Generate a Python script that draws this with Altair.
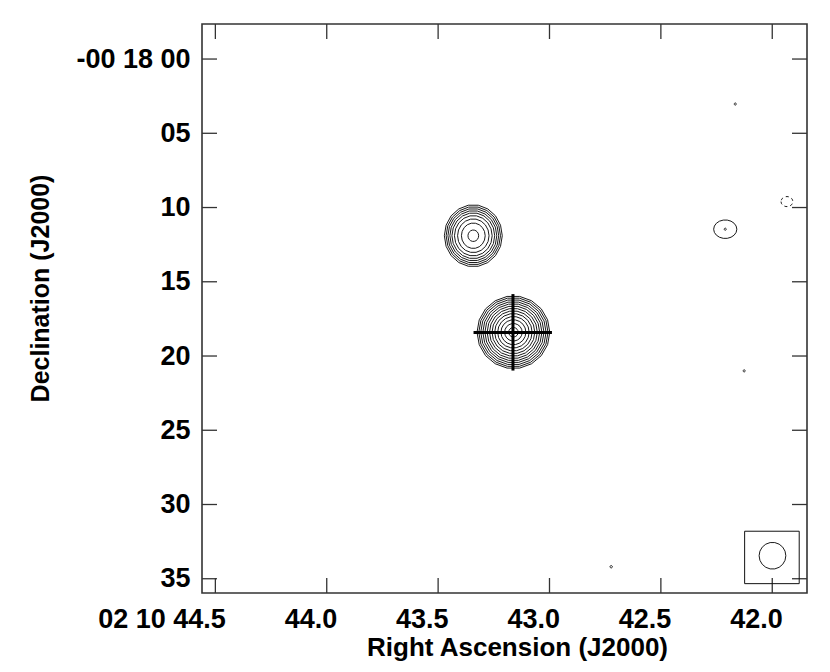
import altair as alt
import pandas as pd
import numpy as np

# Axis tick values
x_ticks = [44.5, 44.0, 43.5, 43.0, 42.5, 42.0]          # RA seconds (02 10 xx.x)
y_ticks = [0, 5, 10, 15, 20, 25, 30, 35]                 # Dec arcsec offset (-00 18 xx)

# Positive contour groups: centre RA (s), centre Dec (arcsec), ring radii (arcsec), y/x ratio
src_ra = [43.342, 43.162, 42.211, 42.211, 42.166, 42.126, 42.723, 41.999]
src_dec = [11.9, 18.4, 11.46, 11.46, 3.03, 21.0, 34.19, 33.45]
src_radii = [
    [1.95, 1.83, 1.71, 1.58, 1.44, 1.27, 1.06, 0.80, 0.36],
    [2.45, 2.33, 2.20, 2.06, 1.92, 1.77, 1.61, 1.44, 1.26, 1.06, 0.84, 0.59, 0.32],
    [0.78],
    [0.07],
    [0.07],
    [0.07],
    [0.08],
    [0.90],
]
src_ratio = [1.07, 1.0, 0.8, 1.0, 1.0, 1.0, 1.0, 1.0]

# Negative (dashed) contour
neg_ra = [41.934]
neg_dec = [9.6]
neg_radii = [[0.40]]
neg_ratio = [0.85]

# Cross marking the target position
cross_ra = [43.341, 42.989]
cross_dec = [15.83, 20.98]
cross_centre_ra = [43.164]
cross_centre_dec = [18.42]

# Beam box
beam_box_ra = [42.124, 41.879]
beam_box_dec = [31.80, 35.33]


def rings(ras, decs, radii, ratios, prefix, n=19):
    rows = []
    t = np.linspace(0, 2 * np.pi, n)
    for i, (ra, dec, rr, q) in enumerate(zip(ras, decs, radii, ratios)):
        for j, r in enumerate(rr):
            for k, a in enumerate(t):
                rows.append({
                    "ring": f"{prefix}{i}_{j}",
                    "k": k,
                    "ra": ra + r * np.cos(a) / 15.0,
                    "dec": dec + r * q * np.sin(a),
                })
    return pd.DataFrame(rows)


pos_df = rings(src_ra, src_dec, src_radii, src_ratio, "p")
neg_df = rings(neg_ra, neg_dec, neg_radii, neg_ratio, "n")

W, H = 605, 569
xs = alt.Scale(domain=[41.844, 44.56], reverse=True, nice=False, zero=False)
ys = alt.Scale(domain=[-2.36, 35.96], reverse=True, nice=False, zero=False)

FONT = "Liberation Sans"
xaxis = alt.Axis(
    values=x_ticks, ticks=False, domain=False, grid=False,
    labelExpr="datum.value == 44.5 ? '02 10 44.5' : format(datum.value, '.1f')",
    labelAlign="right", labelOffset=10,
    labelFont=FONT, labelFontWeight="bold", labelFontSize=27, labelColor="black",
    labelPadding=13, labelFlush=False, labelOverlap=False,
    title="Right Ascension (J2000)", titleFont=FONT, titleFontWeight="bold",
    titleFontSize=26, titleColor="black",
    titleX=315, titleY=62, titleAlign="center", titleBaseline="alphabetic",
)
yaxis = alt.Axis(
    values=y_ticks, ticks=False, domain=False, grid=False,
    labelExpr="datum.value == 0 ? '-00 18 00' : (datum.value < 10 ? '0' + datum.value : '' + datum.value)",
    labelFont=FONT, labelFontWeight="bold", labelFontSize=27, labelColor="black",
    labelPadding=12, labelFlush=False, labelOverlap=False,
    title="Declination (J2000)", titleFont=FONT, titleFontWeight="bold",
    titleFontSize=25, titleColor="black",
    titleX=-162, titleY=264, titleAlign="center", titleBaseline="middle", titleAngle=270,
)


def X(f):
    return alt.X(f, type="quantitative", scale=xs, axis=xaxis)


def Y(f):
    return alt.Y(f, type="quantitative", scale=ys, axis=yaxis)


contours = alt.Chart(pos_df).mark_line(color="#1a1a1a", strokeWidth=1).encode(
    x=X("ra"), y=Y("dec"), detail="ring:N", order="k:Q"
)
neg = alt.Chart(neg_df).mark_line(color="#1a1a1a", strokeWidth=1, strokeDash=[3, 3]).encode(
    x=X("ra"), y=Y("dec"), detail="ring:N", order="k:Q"
)

cross_h = alt.Chart(pd.DataFrame({"a": [cross_ra[0]], "b": [cross_ra[1]], "d": cross_centre_dec})).mark_rule(
    color="black", strokeWidth=3
).encode(x=X("a"), x2="b", y=Y("d"))
cross_v = alt.Chart(pd.DataFrame({"r": cross_centre_ra, "a": [cross_dec[0]], "b": [cross_dec[1]]})).mark_rule(
    color="black", strokeWidth=3
).encode(x=X("r"), y=Y("a"), y2="b")

beam_box = alt.Chart(pd.DataFrame({
    "a": [beam_box_ra[0]], "b": [beam_box_ra[1]], "c": [beam_box_dec[0]], "d": [beam_box_dec[1]]
})).mark_rect(fillOpacity=0, stroke="#111", strokeWidth=1).encode(
    x=X("a"), x2="b", y=Y("c"), y2="d"
)

xt = pd.DataFrame({"v": x_ticks})
yt = pd.DataFrame({"v": y_ticks})
TL = 15
tick_style = dict(color="#333", strokeWidth=1.3)
t_bottom = alt.Chart(xt).mark_rule(**tick_style).encode(x=X("v"), y=alt.value(H), y2=alt.value(H - TL))
t_top = alt.Chart(xt).mark_rule(**tick_style).encode(x=X("v"), y=alt.value(0), y2=alt.value(TL))
t_left = alt.Chart(yt).mark_rule(**tick_style).encode(y=Y("v"), x=alt.value(0), x2=alt.value(TL))
t_right = alt.Chart(yt).mark_rule(**tick_style).encode(y=Y("v"), x=alt.value(W), x2=alt.value(W - TL))

chart = alt.layer(
    t_bottom, t_top, t_left, t_right, contours, neg, cross_h, cross_v, beam_box
).properties(
    width=W, height=H, autosize="none",
    padding={"left": 194, "top": 16, "right": 15, "bottom": 80},
).configure(background="white").configure_view(stroke="#333", strokeWidth=1.6)

chart.save("out.html", embed_options={"renderer": "svg", "actions": False})
